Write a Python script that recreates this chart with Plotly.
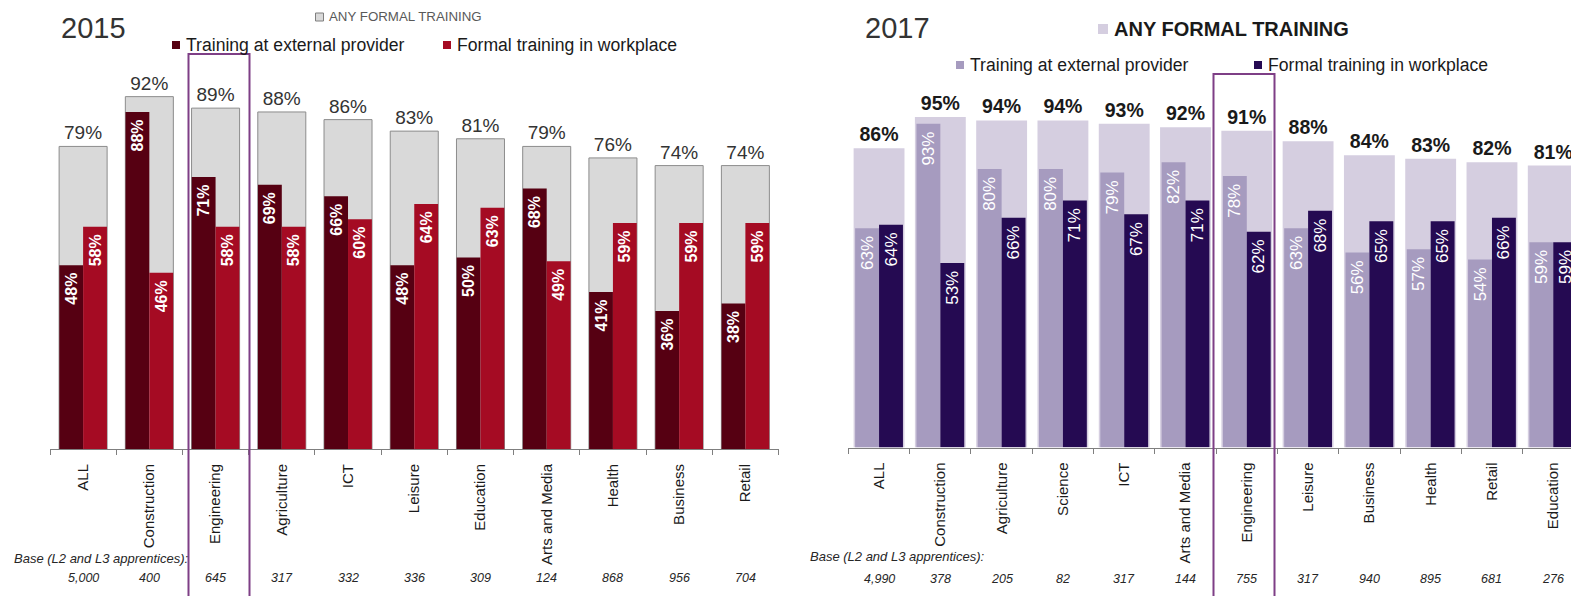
import plotly.graph_objects as go

# ---------------- data ----------------
cats15 = ["ALL", "Construction", "Engineering", "Agriculture", "ICT", "Leisure",
          "Education", "Arts and Media", "Health", "Business", "Retail"]
any15 = [79, 92, 89, 88, 86, 83, 81, 79, 76, 74, 74]
ext15 = [48, 88, 71, 69, 66, 48, 50, 68, 41, 36, 38]
work15 = [58, 46, 58, 58, 60, 64, 63, 49, 59, 59, 59]
base15 = [5000, 400, 645, 317, 332, 336, 309, 124, 868, 956, 704]

cats17 = ["ALL", "Construction", "Agriculture", "Science", "ICT", "Arts and Media",
          "Engineering", "Leisure", "Business", "Health", "Retail", "Education"]
any17 = [86, 95, 94, 94, 93, 92, 91, 88, 84, 83, 82, 81]
ext17 = [63, 93, 80, 80, 79, 82, 78, 63, 56, 57, 54, 59]
work17 = [64, 53, 66, 71, 67, 71, 62, 68, 65, 65, 66, 59]
base17 = [4990, 378, 205, 82, 317, 144, 755, 317, 940, 895, 681, 276]

series_names = ["Training at external provider", "Formal training in workplace"]
total_name = "ANY FORMAL TRAINING"
base_label = "Base (L2 and L3 apprentices):"

# ---------------- geometry helpers ----------------
# the page body adds an 8px margin, so the figure is made 8px smaller
# and all page-pixel positions are shifted by that offset
OFF = 8
W, H = 1579 - OFF, 596 - OFF
FONT = "Arial, Liberation Sans, Helvetica, sans-serif"


def px(x):
    return (x - OFF) / W


def py(y):
    return 1 - (y - OFF) / H


def pct(vals):
    return [f"{v}%" for v in vals]


def pct_in(vals):
    # trailing no-break space keeps the label a little away from the bar end
    return [f"{v}%\u00a0" for v in vals]


# colours
GRAY_BG, GRAY_LINE = "#D9D9D9", "#8C8C8C"
RED_DARK, RED = "#560012", "#A50B23"
LAV_BG, LAV, PURP = "#D5CEE0", "#A69BBF", "#250A52"
RECT = "#7E3F86"

fig = go.Figure()

# ---------------- 2015 panel ----------------
fig.add_trace(go.Bar(
    x=cats15, y=any15, width=0.725, offset=-0.3625, name=total_name,
    marker=dict(color=GRAY_BG, line=dict(color=GRAY_LINE, width=1)),
    text=pct(any15), textposition="outside", textangle=0, constraintext="none",
    textfont=dict(size=19, color="#333333", family=FONT), cliponaxis=False,
    xaxis="x", yaxis="y"))
fig.add_trace(go.Bar(
    x=cats15, y=ext15, width=0.36, offset=-0.36, name=series_names[0],
    marker=dict(color=RED_DARK, line=dict(width=0)),
    text=pct_in(ext15), textposition="inside", insidetextanchor="end", textangle=-90,
    constraintext="none",
    insidetextfont=dict(size=16, color="white", family=FONT, weight="bold"),
    xaxis="x", yaxis="y"))
fig.add_trace(go.Bar(
    x=cats15, y=work15, width=0.36, offset=0.0, name=series_names[1],
    marker=dict(color=RED, line=dict(width=0)),
    text=pct_in(work15), textposition="inside", insidetextanchor="end", textangle=-90,
    constraintext="none",
    insidetextfont=dict(size=16, color="white", family=FONT, weight="bold"),
    xaxis="x", yaxis="y"))

# ---------------- 2017 panel ----------------
fig.add_trace(go.Bar(
    x=cats17, y=any17, width=0.83, offset=-0.415, name=total_name,
    marker=dict(color=LAV_BG, line=dict(width=0)),
    text=pct(any17), textposition="outside", textangle=0, constraintext="none",
    textfont=dict(size=19.5, color="#1a1a1a", family=FONT, weight="bold"),
    cliponaxis=False, xaxis="x2", yaxis="y2"))
fig.add_trace(go.Bar(
    x=cats17, y=ext17, width=0.39, offset=-0.39, name=series_names[0],
    marker=dict(color=LAV, line=dict(width=0)),
    text=pct_in(ext17), textposition="inside", insidetextanchor="end", textangle=-90,
    constraintext="none",
    insidetextfont=dict(size=17, color="white", family=FONT),
    xaxis="x2", yaxis="y2"))
fig.add_trace(go.Bar(
    x=cats17, y=work17, width=0.39, offset=0.0, name=series_names[1],
    marker=dict(color=PURP, line=dict(width=0)),
    text=pct_in(work17), textposition="inside", insidetextanchor="end", textangle=-90,
    constraintext="none",
    insidetextfont=dict(size=17, color="white", family=FONT),
    xaxis="x2", yaxis="y2"))

xcommon = dict(type="category", tickson="boundaries", ticks="outside", ticklen=5,
               tickcolor="#7f7f7f", showline=True, linecolor="#7f7f7f", linewidth=1,
               tickangle=-90, tickfont=dict(size=15, color="#1a1a1a", family=FONT),
               showgrid=False, zeroline=False, ticklabelstandoff=8, fixedrange=True)

fig.update_layout(
    width=W, height=H, margin=dict(l=0, r=0, t=0, b=0),
    paper_bgcolor="white", plot_bgcolor="white",
    barmode="overlay", showlegend=False,
    font=dict(family=FONT),
    xaxis=dict(domain=[px(50), px(778.5)], anchor="y",
               categoryorder="array", categoryarray=cats15, range=[-0.5, 10.5], **xcommon),
    yaxis=dict(domain=[py(449), py(449 - 383)], range=[0, 100], visible=False,
               anchor="x", fixedrange=True),
    xaxis2=dict(domain=[px(848.4), 1.0], anchor="y2",
                categoryorder="array", categoryarray=cats17, range=[-0.5, 11.42], **xcommon),
    yaxis2=dict(domain=[py(447.5), py(447.5 - 348)], range=[0, 100], visible=False,
                anchor="x2", fixedrange=True),
)

ann = []
shapes = []

# titles
ann.append(dict(text="2015", x=px(59), y=py(28), xref="paper", yref="paper",
                xanchor="left", yanchor="middle", showarrow=False,
                font=dict(size=29, color="#333333", family=FONT)))
ann.append(dict(text="2017", x=px(863), y=py(28), xref="paper", yref="paper",
                xanchor="left", yanchor="middle", showarrow=False,
                font=dict(size=29, color="#333333", family=FONT)))


def legend_item(sq_x, sq_y, size, color, text_x, text, fsize, fcolor,
                line_color=None, bold=False):
    shapes.append(dict(type="rect", xref="paper", yref="paper",
                       x0=px(sq_x), x1=px(sq_x + size),
                       y0=py(sq_y + size / 2), y1=py(sq_y - size / 2),
                       fillcolor=color,
                       line=dict(color=line_color or color, width=1 if line_color else 0)))
    ann.append(dict(text=text, x=px(text_x), y=py(sq_y), xref="paper", yref="paper",
                    xanchor="left", yanchor="middle", showarrow=False,
                    font=dict(size=fsize, color=fcolor, family=FONT,
                              weight="bold" if bold else "normal")))


# 2015 legend
legend_item(315.5, 17, 8, GRAY_BG, 327, total_name, 13.3, "#595959", line_color="#7f7f7f")
legend_item(172, 45, 8, RED_DARK, 184, series_names[0], 17.6, "#1a1a1a")
legend_item(443, 45, 8, RED, 455, series_names[1], 17.6, "#1a1a1a")
# 2017 legend
legend_item(1098, 29, 10, LAV_BG, 1112, total_name, 20, "#1a1a1a", bold=True)
legend_item(956, 65, 8, LAV, 968, series_names[0], 17.6, "#1a1a1a")
legend_item(1254, 65, 8, PURP, 1266, series_names[1], 17.6, "#1a1a1a")

# base rows
ann.append(dict(text=f"<i>{base_label}</i>", x=px(12), y=py(558), xref="paper", yref="paper",
                xanchor="left", yanchor="middle", showarrow=False,
                font=dict(size=13, color="#262626", family=FONT)))
ann.append(dict(text=f"<i>{base_label}</i>", x=px(808), y=py(556), xref="paper", yref="paper",
                xanchor="left", yanchor="middle", showarrow=False,
                font=dict(size=13, color="#262626", family=FONT)))
for c, b in zip(cats15, base15):
    ann.append(dict(text=f"<i>{b:,}</i>", x=c, xref="x", y=py(578), yref="paper",
                    xanchor="center", yanchor="middle", showarrow=False,
                    font=dict(size=12.5, color="#262626", family=FONT)))
for c, b in zip(cats17, base17):
    ann.append(dict(text=f"<i>{b:,}</i>", x=c, xref="x2", y=py(579), yref="paper",
                    xanchor="center", yanchor="middle", showarrow=False,
                    font=dict(size=12.5, color="#262626", family=FONT)))

# highlight boxes around Engineering
shapes.append(dict(type="rect", xref="paper", yref="paper",
                   x0=px(188.5), x1=px(249.5), y0=py(600), y1=py(54),
                   line=dict(color=RECT, width=2), fillcolor="rgba(0,0,0,0)"))
shapes.append(dict(type="rect", xref="paper", yref="paper",
                   x0=px(1213.5), x1=px(1274.5), y0=py(600), y1=py(74),
                   line=dict(color=RECT, width=2), fillcolor="rgba(0,0,0,0)"))

fig.update_layout(annotations=ann, shapes=shapes)

fig.write_html("out.html")
